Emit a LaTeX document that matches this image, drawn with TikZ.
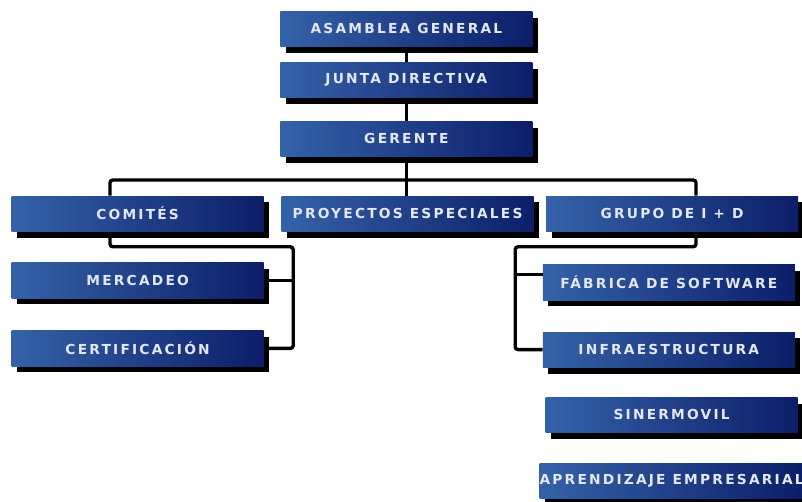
\documentclass[tikz,border=0pt]{standalone}
\usepackage{fontspec}
\usepackage{tikz}
\usetikzlibrary{positioning,shadows,calc}
\newfontfamily\orgfont[LetterSpace=16]{DejaVu Sans}
\definecolor{boxleft}{RGB}{52,98,168}
\definecolor{boxright}{RGB}{12,30,105}
\definecolor{boxtext}{RGB}{226,231,240}
\tikzstyle{orgbox}   = [rectangle, minimum width=6.3cm, minimum height=0.88cm, inner sep=0pt, left color=boxleft, right color=boxright, text=boxtext, font=\orgfont\bfseries\fontsize{9.8}{11}\selectfont, general shadow={fill=black, shadow xshift=0.14cm, shadow yshift=-0.16cm}]
\tikzstyle{link}     = [line width=2.4pt, black, rounded corners=2pt]
\begin{document}
\begin{tikzpicture}[]
        \path[use as bounding box, fill=white] (0,0) rectangle (20.05,-12.55);

        \node[orgbox] (asamblea) at (10.16,-0.72) {ASAMBLEA GENERAL};
        \node[orgbox] (junta) at (10.16,-2.0) {JUNTA DIRECTIVA};
        \node[orgbox] (gerente) at (10.16,-3.47) {GERENTE};

        \node[orgbox] (comites) at (3.44,-5.34) {COMITÉS};
        \node[orgbox] (proyectos) at (10.19,-5.34) {PROYECTOS ESPECIALES};
        \node[orgbox] (grupo) at (16.8,-5.34) {GRUPO DE I + D};

        \node[orgbox] (mercadeo) at (3.44,-7.01) {MERCADEO};
        \node[orgbox] (certificacion) at (3.44,-8.71) {CERTIFICACIÓN};

        \node[orgbox] (fabrica) at (16.72,-7.06) {FÁBRICA DE SOFTWARE};
        \node[orgbox] (infra) at (16.72,-8.74) {INFRAESTRUCTURA};
        \node[orgbox] (sinermovil) at (16.79,-10.37) {SINERMOVIL};
        \node[orgbox] (aprendizaje) at (16.79,-12.02) {APRENDIZAJE EMPRESARIAL};

        \coordinate (bar) at (10.16,-4.5);
        \coordinate (barl) at (2.75,-4.5);
        \coordinate (barr) at (17.4,-4.5);
        \coordinate (comjoin) at (7.33,-6.17);
        \coordinate (grjoin) at (12.88,-6.17);

        \draw[link] ([yshift=-0.16cm]asamblea.south) -- (junta.north);
        \draw[link] ([yshift=-0.16cm]junta.south) -- (gerente.north);
        \draw[link] ([yshift=-0.16cm]gerente.south) -- (bar);
        \draw[link] (comites.north -| barl) -- (barl) -- (barr) -- (grupo.north -| barr);
        \draw[link] (bar) -- (bar |- proyectos.north);

        \draw[link] ([yshift=-0.16cm]comites.south -| barl) |- (comjoin) |- (certificacion.east);
        \draw[link] (mercadeo.east) -- (mercadeo.east -| comjoin);

        \draw[link] ([yshift=-0.16cm]grupo.south -| barr) |- (grjoin) |- (infra.west);
        \draw[link] ([yshift=0.2cm]fabrica.west) -- ([yshift=0.2cm]fabrica.west -| grjoin);
    \end{tikzpicture}
\end{document}
